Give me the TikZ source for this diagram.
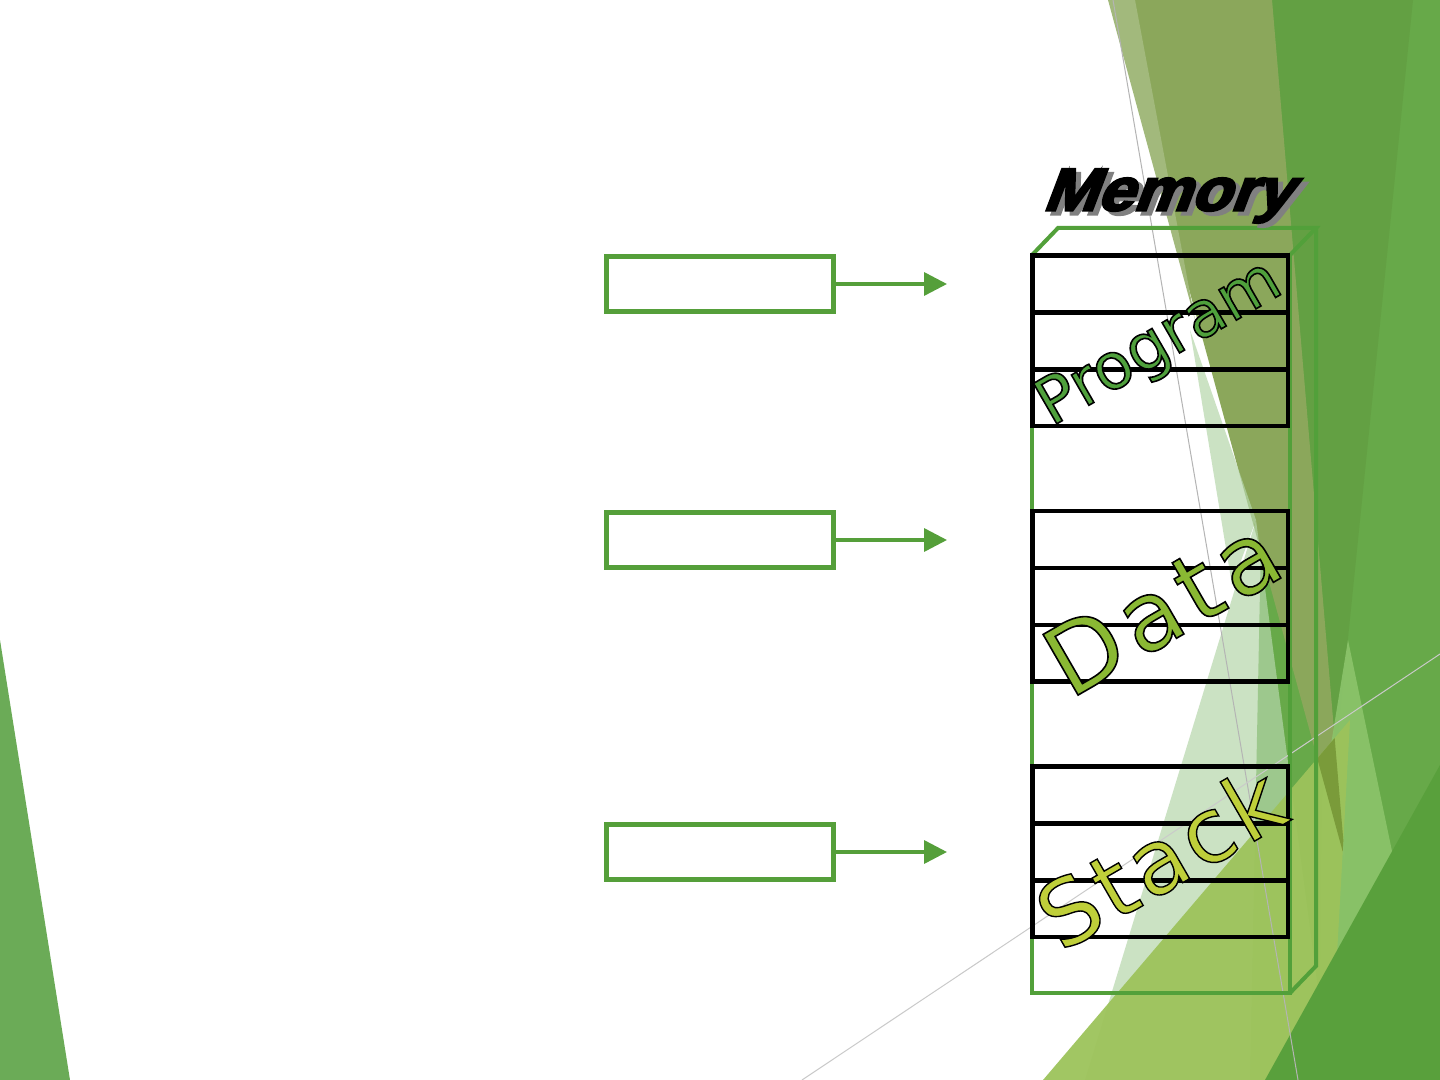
\documentclass[tikz,border=0pt]{standalone}
\usepackage{fontspec}
\usetikzlibrary{arrows.meta,positioning}
\setmainfont{DejaVu Sans}
\newfontfamily\titlefont{Liberation Sans}
\newfontfamily\progfont{DejaVu Sans}
\newfontfamily\datafont{DejaVu Sans}[LetterSpace=8]
\newfontfamily\stackfont{DejaVu Sans}[LetterSpace=5]
% fill in the current colour, stroke in black
\newcommand\inked[2]{\special{pdf:literal direct 0 0 0 RG #1 w 2 Tr}#2\special{pdf:literal direct 0 Tr}}
\newcommand\shaded[2]{\special{pdf:literal direct 0.5 0.5 0.5 RG #1 w 2 Tr}#2\special{pdf:literal direct 0 Tr}}
\definecolor{slotgreen} {HTML}{559F3A}
\definecolor{memgreen}  {HTML}{52A03A}
\definecolor{proggreen} {HTML}{4FA03C}
\definecolor{datagreen} {HTML}{8AB833}
\definecolor{stackgreen}{HTML}{BFCF3A}
\definecolor{shadowgray}{HTML}{808080}
\definecolor{leafleft}  {HTML}{6BAB57}
\definecolor{leafbase}  {HTML}{67A949}
\definecolor{leafdark}  {HTML}{63A043}
\definecolor{leafolive} {HTML}{8BA75B}
\definecolor{leafmoss}  {HTML}{7A9B3A}
\definecolor{leafpale}  {HTML}{B5D6AA}
\definecolor{leaflight} {HTML}{8CC46B}
\definecolor{leaflime}  {HTML}{9DC35B}
\definecolor{leafdeep}  {HTML}{59A03C}
\definecolor{hairline}  {HTML}{B4B4B4}
\tikzset{
  slot/.style     ={draw=slotgreen, line width=2.25pt, minimum width=113.5pt,
                    minimum height=27.5pt, inner sep=0pt},
  ptr/.style      ={-{Triangle[length=11.5pt,width=11.5pt]}, line width=1.75pt,
                    draw=slotgreen},
  cell/.style     ={draw=black, line width=2.25pt},
  memwall/.style  ={draw=memgreen, line width=2pt, line join=miter},
  titletext/.style={font=\titlefont\bfseries\fontsize{30}{36}\selectfont,
                    xslant=0.38, xscale=1.08, inner sep=0pt},
  seglabel/.style ={rotate=30, inner sep=0pt},
}
\begin{document}
\begin{tikzpicture}[x=0.5pt,y=-0.5pt]
  \fill[white] (0,0) rectangle (1440,1080);
  \useasboundingbox (0,0) rectangle (1440,1080);
  % facets
  \fill[leafleft] (0,640) -- (70,1080) -- (0,1080) -- cycle;
  \fill[leafbase] (1272,0) -- (1440,0) -- (1440,1080) -- (1250,1080) -- cycle;
  \fill[leafdark] (1272,0) -- (1413,0) -- (1336,756) -- cycle;
  \fill[leafolive] (1110,0) -- (1272,0) -- (1345,860) -- cycle;
  \fill[leafolive!80!white] (1108,0) -- (1135,0) -- (1195,320) -- cycle;
  \fill[leafpale,opacity=.7] (1190,330) -- (1256,520) -- (1232,585) -- cycle;
  \fill[leafpale,opacity=.7] (1256,520) -- (1085,1080) -- (1330,1080) -- cycle;
  \fill[leaflight,opacity=.9] (1348,640) -- (1398,880) -- (1320,1010) -- (1322,800) -- cycle;
  \fill[leaflime,opacity=.95] (1043,1080) -- (1350,720) -- (1330,1080) -- cycle;
  \begin{scope}
    \clip (1043,1080) -- (1350,720) -- (1330,1080) -- cycle;
    \fill[leafmoss] (1110,0) -- (1272,0) -- (1345,860) -- cycle;
  \end{scope}
  \fill[leafdeep] (1265,1080) -- (1440,765) -- (1440,1080) -- cycle;
  \draw[hairline,line width=0.5pt] (1113,0) -- (1298,1080);
  \draw[hairline!70,line width=0.5pt] (802,1080) -- (1440,654);
  % memory block
  \draw[memwall] (1032,255) rectangle (1290,993);
  \draw[memwall] (1032,255) -- (1058,228) -- (1316,228) -- (1290,255);
  \draw[memwall] (1316,228) -- (1316,966) -- (1290,993);
  \foreach \g in {0,1,2}
    \foreach \r in {0,1,2}
      \draw[cell] (1032.5,{255.7+255.5*\g+56.8*\r}) rectangle ++(255.5,56.8);
  \node[titletext,text=shadowgray] (memshade) at (1177,200)
    {\shaded{1.2}{Memory}};
  \node[titletext] (memtitle) at (1172,196) {\inked{1.2}{Memory}};
  % segment names
  \node[seglabel,text=proggreen,font=\progfont\fontsize{32}{38}\selectfont]
    (prog) at (1160,345) {\inked{0.8}{Program}};
  \node[seglabel,text=datagreen,font=\datafont\fontsize{48}{56}\selectfont]
    (data) at (1162,607) {\inked{0.8}{Data}};
  \node[seglabel,text=stackgreen,font=\stackfont\fontsize{45}{54}\selectfont]
    (stack) at (1160,857) {\inked{0.7}{Stack}};
  % pointers
  \foreach \n/\y in {1/284,2/540,3/852} {
    \node[slot] (src\n) at (720,\y) {};
    \coordinate (dst\n) at (947,\y);
    \draw[ptr] (src\n) -- (dst\n);
  }
\end{tikzpicture}
\end{document}
